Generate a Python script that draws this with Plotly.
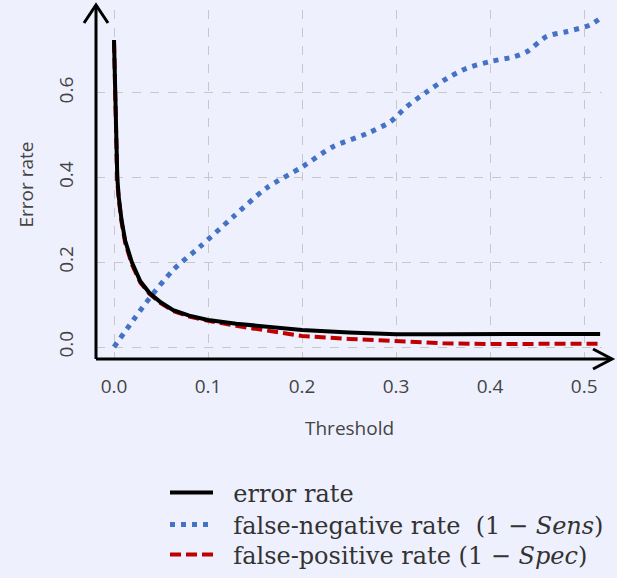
import plotly.graph_objects as go

# ---- data ----
thr_err = [0, 0.001, 0.0025, 0.0035, 0.005, 0.008, 0.012, 0.019, 0.028, 0.038,
           0.05, 0.063, 0.08, 0.1, 0.13, 0.16, 0.2, 0.25, 0.3, 0.35, 0.4, 0.45, 0.517]
err_rate = [0.725, 0.62, 0.48, 0.40, 0.355, 0.30, 0.25, 0.20, 0.155, 0.127,
            0.105, 0.087, 0.074, 0.064, 0.055, 0.048, 0.040, 0.034, 0.030, 0.030,
            0.031, 0.031, 0.031]

thr_fp = [0, 0.001, 0.0025, 0.0035, 0.005, 0.008, 0.012, 0.019, 0.028, 0.038,
          0.05, 0.063, 0.08, 0.1, 0.13, 0.16, 0.2, 0.25, 0.3, 0.35, 0.4, 0.45, 0.517]
fp_rate = [0.72, 0.61, 0.47, 0.39, 0.35, 0.295, 0.245, 0.195, 0.152, 0.125,
           0.103, 0.085, 0.072, 0.062, 0.05, 0.04, 0.026, 0.019, 0.013, 0.009,
           0.007, 0.007, 0.008]

thr_fn = [0, 0.0206, 0.038, 0.063, 0.0915, 0.127, 0.162, 0.2, 0.233, 0.269, 0.294,
          0.311, 0.333, 0.354, 0.375, 0.4, 0.425, 0.439, 0.46, 0.482, 0.506, 0.517]
fn_rate = [0, 0.064, 0.116, 0.182, 0.237, 0.308, 0.375, 0.425, 0.473, 0.504, 0.532,
           0.567, 0.603, 0.634, 0.658, 0.674, 0.685, 0.697, 0.733, 0.745, 0.760, 0.776]

x_ticks = [0.0, 0.1, 0.2, 0.3, 0.4, 0.5]
y_ticks = [0.0, 0.2, 0.4, 0.6]

x_title = "Threshold"
y_title = "Error rate"
names = ["error rate",
         "false-negative rate  (1 − <i>Sens</i>)",
         "false-positive rate (1 − <i>Spec</i>)"]

BG = "#eef1fd"
TXT = "#444444"
PAD = "\u00a0\u00a0"

fig = go.Figure()
fig.add_trace(go.Scatter(x=thr_fn, y=fn_rate, mode="lines", name=PAD + names[1],
                         legend="legend2", line_shape="spline",
                         line=dict(color="#4472c4", width=5, dash="5px,6px",
                                   smoothing=0.8)))
fig.add_trace(go.Scatter(x=thr_fp, y=fp_rate, mode="lines", name=PAD + names[2],
                         legend="legend3",
                         line=dict(color="#c00000", width=4, dash="11px,5px")))
fig.add_trace(go.Scatter(x=thr_err, y=err_rate, mode="lines", name=PAD + names[0],
                         legend="legend",
                         line=dict(color="black", width=4)))

grid = dict(showgrid=True, gridcolor="#c8c8c8", griddash="dash", gridwidth=1,
            zeroline=False, showline=False, ticks="")

def leg(yc):
    return dict(xref="container", yref="container", x=165 / 617, y=1 - yc / 578,
                xanchor="left", yanchor="middle", itemwidth=43,
                font=dict(family="DejaVu Serif", size=24, color="#333333"),
                bgcolor="rgba(0,0,0,0)")

fig.update_layout(
    width=617, height=578,
    margin=dict(l=96, r=15, t=10, b=219, autoexpand=False),
    paper_bgcolor=BG, plot_bgcolor=BG,
    font=dict(family="Open Sans", size=19, color=TXT),
    xaxis=dict(range=[-0.01915, 0.519], tickvals=x_ticks, tickformat=".1f",
               ticklabelstandoff=14, **grid),
    yaxis=dict(range=[-0.0283, 0.7957], tickvals=y_ticks, tickformat=".1f",
               tickangle=-90, ticklabelstandoff=18, **grid),
    legend=leg(493), legend2=leg(525), legend3=leg(555),
    showlegend=True,
)

fig.add_annotation(text=x_title, xref="paper", yref="paper", x=0.5, y=-0.198,
                   xanchor="center", yanchor="middle", showarrow=False,
                   font=dict(size=19, color=TXT))
fig.add_annotation(text=y_title, xref="paper", yref="paper", x=-0.1403, y=0.5,
                   xanchor="center", yanchor="middle", showarrow=False, textangle=-90,
                   font=dict(size=19, color=TXT))

# axis lines with open arrowheads
ax = dict(color="black", width=3)
fig.add_shape(type="line", xref="paper", yref="paper", x0=0, y0=0, x1=0, y1=1.0143,
              line=ax, layer="above")
fig.add_shape(type="line", xref="paper", yref="paper", x0=0, y0=0, x1=1.0198, y1=0,
              line=ax, layer="above")
fig.add_shape(type="path", xref="paper", yref="paper", xsizemode="pixel", ysizemode="pixel",
              xanchor=0, yanchor=1.0143, path="M -12,-18 L 0,0 L 12,-18",
              line=ax, layer="above")
fig.add_shape(type="path", xref="paper", yref="paper", xsizemode="pixel", ysizemode="pixel",
              xanchor=1.0198, yanchor=0, path="M -19,10 L 0,0 L -19,-10",
              line=ax, layer="above")

fig.write_html("out.html")
